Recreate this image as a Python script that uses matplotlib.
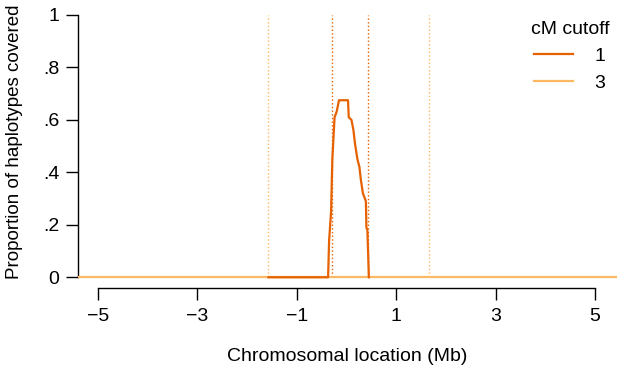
import matplotlib.pyplot as plt

plt.rcParams['font.family'] = ['Liberation Sans', 'DejaVu Sans']

# coverage for cutoff 1 cM (position in Mb, proportion covered)
pos_1 = [-1.57, -0.37, -0.35, -0.31, -0.285, -0.24, -0.20, -0.15, 0.03, 0.045,
         0.10, 0.14, 0.17, 0.22, 0.26, 0.29, 0.33, 0.39, 0.40, 0.42, 0.45]
cov_1 = [0.0, 0.0, 0.14, 0.25, 0.45, 0.61, 0.63, 0.675, 0.675, 0.61,
         0.60, 0.56, 0.51, 0.45, 0.42, 0.37, 0.32, 0.29, 0.19, 0.18, 0.0]

# coverage for cutoff 3 cM
pos_3 = [-5.4, 5.44]
cov_3 = [0.0, 0.0]

# region boundaries (Mb)
bounds_1 = [-0.30, 0.43]
bounds_3 = [-1.57, 1.65]

col_1 = '#E66101'
col_3 = '#FDB863'

xticks = [-5, -3, -1, 1, 3, 5]
yticks = [0, 0.2, 0.4, 0.6, 0.8, 1]
ytick_labels = ['0', '.2', '.4', '.6', '.8', '1']

fig = plt.figure(figsize=(6.17, 3.68), dpi=100)
ax = fig.add_axes([78 / 617, 1 - 288.3 / 368, 1 - 78 / 617, (288.3 - 4.5) / 368])

ax.vlines(bounds_3, 0, 1, color=col_3, linestyle=':', linewidth=1)
ax.vlines(bounds_1, 0, 1, color=col_1, linestyle=':', linewidth=1)
ax.plot(pos_3, cov_3, color=col_3, linewidth=1.6, label='3', zorder=3)
ax.plot(pos_1, cov_1, color=col_1, linewidth=1.6, label='1', zorder=4)

ax.set_xlim(-5.4, 5.44)
ax.set_ylim(-0.042, 1.04)

for side in ['top', 'right']:
    ax.spines[side].set_visible(False)
ax.spines['left'].set_bounds(0, 1)
ax.spines['bottom'].set_bounds(-5, 5)
ax.spines['left'].set_linewidth(1)
ax.spines['bottom'].set_linewidth(1)

ax.set_xticks(xticks)
ax.set_xticklabels([str(t).replace('-', '\u2212') for t in xticks])
ax.set_yticks(yticks)
ax.set_yticklabels(ytick_labels)
ax.tick_params(axis='both', labelsize=14, length=8.5, width=1, direction='out')
ax.tick_params(axis='x', pad=6)
ax.tick_params(axis='y', pad=5)

ax.set_xlabel('Chromosomal location (Mb)', fontsize=14)
ax.xaxis.set_label_coords(0.5, -0.24)
ax.xaxis.label.set_va('center')
ax.set_ylabel('Proportion of haplotypes covered', fontsize=13.5)
ax.yaxis.set_label_coords(-0.117, 0.515)
ax.yaxis.label.set_va('center')

handles, labels = ax.get_legend_handles_labels()
order = [1, 0]
leg = ax.legend([handles[i] for i in order], [labels[i] for i in order],
                title='cM cutoff', fontsize=14, title_fontsize=14, frameon=False,
                loc='upper right', bbox_to_anchor=(1.018, 1.005),
                handlelength=2.0, handletextpad=1.1, labelspacing=0.5)

fig.savefig('out.png', dpi=100)
